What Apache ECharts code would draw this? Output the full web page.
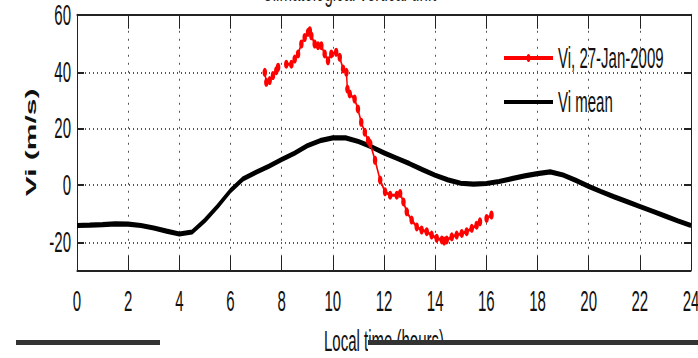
<!DOCTYPE html>
<html>
<head>
<meta charset="utf-8">
<script src="https://cdn.jsdelivr.net/npm/echarts@6/dist/echarts.min.js"></script>
<style>
  html, body { margin: 0; padding: 0; background: #fff; }
  #frame { width: 698px; height: 358px; position: relative; overflow: hidden; }
  /* the figure is laid out at half height and stretched vertically */
  #chart { position: absolute; left: 0; top: 0; width: 698px; height: 179px;
           transform: scaleY(2); transform-origin: 0 0; }
</style>
</head>
<body>
<div id="frame"><div id="chart"></div></div>
<script>
// Tick values
const hourTicks = [0, 2, 4, 6, 8, 10, 12, 14, 16, 18, 20, 22, 24];
const viTicks = [-20, 0, 20, 40, 60];

// Mean vertical drift, every half hour of local time
const meanHours = [0, 0.5, 1, 1.5, 2, 2.5, 3, 3.5, 4, 4.5, 5, 5.5, 6, 6.5, 7, 7.5, 8, 8.5,
  9, 9.5, 10, 10.5, 11, 11.5, 12, 12.5, 13, 13.5, 14, 14.5, 15, 15.5, 16, 16.5, 17, 17.5,
  18, 18.5, 19, 19.5, 20, 20.5, 21, 21.5, 22, 22.5, 23, 23.5, 24];
const meanValues = [-14.3, -14.2, -14.0, -13.7, -13.8, -14.3, -15.2, -16.3, -17.3, -16.6,
  -12.5, -7.5, -2.0, 2.2, 4.5, 6.6, 9.0, 11.2, 13.8, 15.6, 16.6, 16.6, 15.3, 13.5, 11.3,
  9.4, 7.5, 5.4, 3.4, 1.8, 0.6, 0.3, 0.5, 1.2, 2.2, 3.2, 4.0, 4.6, 3.5, 1.6, -0.5, -2.4,
  -4.2, -5.9, -7.6, -9.3, -11.0, -12.7, -14.3];

// Observed vertical drift on 27 Jan 2009 (null marks a data gap)
const dayHours = [7.34, 7.40, 7.53, 7.66, 7.79, 7.86, 8.02, 8.18, 8.38, 8.51, 8.64, 8.77,
  8.90, 9.03, 9.10, 9.16, 9.29, 9.42, 9.55, 9.68, 9.81, 9.94, 10.13, 10.27, 10.40, 10.53,
  10.57, 10.66, 10.85, 10.98, 11.11, 11.25, 11.38, 11.46, 11.65, 11.85, 12.04, 12.24,
  12.50, 12.63, 12.76, 12.89, 13.08, 13.28, 13.47, 13.67, 13.86, 14.06, 14.26, 14.35,
  14.45, 14.65, 14.84, 15.04, 15.23, 15.43, 15.62, 15.75, 15.88, 16.01, 16.20];
const dayValues = [39.7, 36.2, 36.8, 38.6, 40.3, 41.5, null, 42.6, 42.6, 44.4, 46.2, 49.7,
  52.0, 53.8, 54.4, 52.6, 49.7, 49.1, 49.1, 46.2, 43.8, 46.2, 46.8, 45.0, 40.9, 39.7,
  33.8, 32.1, 30.3, 26.8, 22.1, 18.6, 15.7, 14.6, 8.7, 1.7, -2.4, -3.6, -3.6, -3.0,
  -6.0, -9.5, -12.4, -14.8, -15.9, -16.5, -17.7, -18.8, -19.4, -19.8, -19.4, -18.3,
  -17.7, -17.1, -16.5, -15.3, -14.2, -13.0, null, -11.8, -10.6];

const FONT = '"Liberation Sans", Arial, Helvetica, sans-serif';
const pairs = (xs, ys) => xs.map((x, i) => [x, ys[i] === null ? '-' : ys[i]]);

const gridDots = { show: true, lineStyle: { color: '#555', width: 1, type: [1, 3] } };
const frameLine = { show: true, onZero: false, lineStyle: { color: '#222', width: 1 } };

const chart = echarts.init(document.getElementById('chart'), null, { renderer: 'svg' });
chart.setOption({
  animation: false,
  backgroundColor: '#fff',
  title: {
    text: 'Climatological vertical drift',
    left: 'center',
    top: -17,
    textStyle: { fontFamily: FONT, fontSize: 15, fontWeight: 'normal', color: '#222' }
  },
  grid: { left: 77, right: 7, top: 7.4, bottom: 44, containLabel: false, outerBoundsMode: 'none' },
  legend: {
    orient: 'vertical',
    left: 503,
    top: 21,
    padding: 0,
    itemWidth: 49,
    itemHeight: 5,
    itemGap: 6,
    textStyle: { fontFamily: FONT, fontSize: 15, lineHeight: 16, color: '#111' },
    data: [
      { name: 'Vi, 27-Jan-2009' },
      { name: 'Vi mean', itemStyle: { color: 'rgba(0,0,0,0)', borderWidth: 0 } }
    ]
  },
  xAxis: [{
    type: 'value', position: 'bottom', min: 0, max: 24,
    name: 'Local time (hours)', nameLocation: 'middle', nameGap: 28,
    nameTextStyle: { fontFamily: FONT, fontSize: 15, color: '#111' },
    axisLine: frameLine,
    axisTick: { show: true, inside: true, length: 7, customValues: hourTicks, lineStyle: { color: '#222' } },
    axisLabel: { show: true, customValues: hourTicks, margin: 8, fontFamily: FONT, fontSize: 15, color: '#111' },
    splitLine: gridDots
  }, {
    type: 'value', position: 'top', min: 0, max: 24,
    axisLine: frameLine,
    axisTick: { show: true, inside: true, length: 7, customValues: hourTicks, lineStyle: { color: '#222' } },
    axisLabel: { show: false },
    splitLine: { show: false }
  }],
  yAxis: [{
    type: 'value', position: 'left', min: -30, max: 60,
    name: 'Vi (m/s)', nameLocation: 'middle', nameGap: 27, nameRotate: 90,
    nameTextStyle: { fontFamily: FONT, fontSize: 15, fontWeight: 'bold', color: '#111' },
    axisLine: frameLine,
    axisTick: { show: true, inside: true, length: 7, customValues: viTicks, lineStyle: { color: '#222' } },
    axisLabel: { show: true, customValues: viTicks, margin: 6, fontFamily: FONT, fontSize: 15, lineHeight: 13, color: '#111' },
    splitLine: gridDots
  }, {
    type: 'value', position: 'right', min: -30, max: 60,
    axisLine: frameLine,
    axisTick: { show: true, inside: true, length: 7, customValues: viTicks, lineStyle: { color: '#222' } },
    axisLabel: { show: false },
    splitLine: { show: false }
  }],
  series: [{
    name: 'Vi, 27-Jan-2009',
    type: 'line',
    xAxisIndex: 0, yAxisIndex: 0,
    data: pairs(dayHours, dayValues),
    connectNulls: false,
    symbol: 'circle',
    symbolSize: 4.5,
    showSymbol: true,
    itemStyle: { color: '#ff0000' },
    lineStyle: { color: '#ff0000', width: 1.5 },
    z: 3
  }, {
    name: 'Vi mean',
    type: 'line',
    xAxisIndex: 0, yAxisIndex: 0,
    data: pairs(meanHours, meanValues),
    symbol: 'none',
    itemStyle: { color: '#000' },
    lineStyle: { color: '#000', width: 2.6 },
    z: 2
  }],
  graphic: [
    // rules under the axis title
    { type: 'rect', left: 16, top: 170, shape: { width: 144, height: 2.5 }, style: { fill: '#333' }, z: 100 },
    { type: 'rect', left: 368, top: 172.5, shape: { width: 330, height: 7 }, style: { fill: '#fff' }, z: 100 },
    { type: 'rect', left: 368, top: 170, shape: { width: 330, height: 2.5 }, style: { fill: '#333' }, z: 101 }
  ]
});
</script>
</body>
</html>
